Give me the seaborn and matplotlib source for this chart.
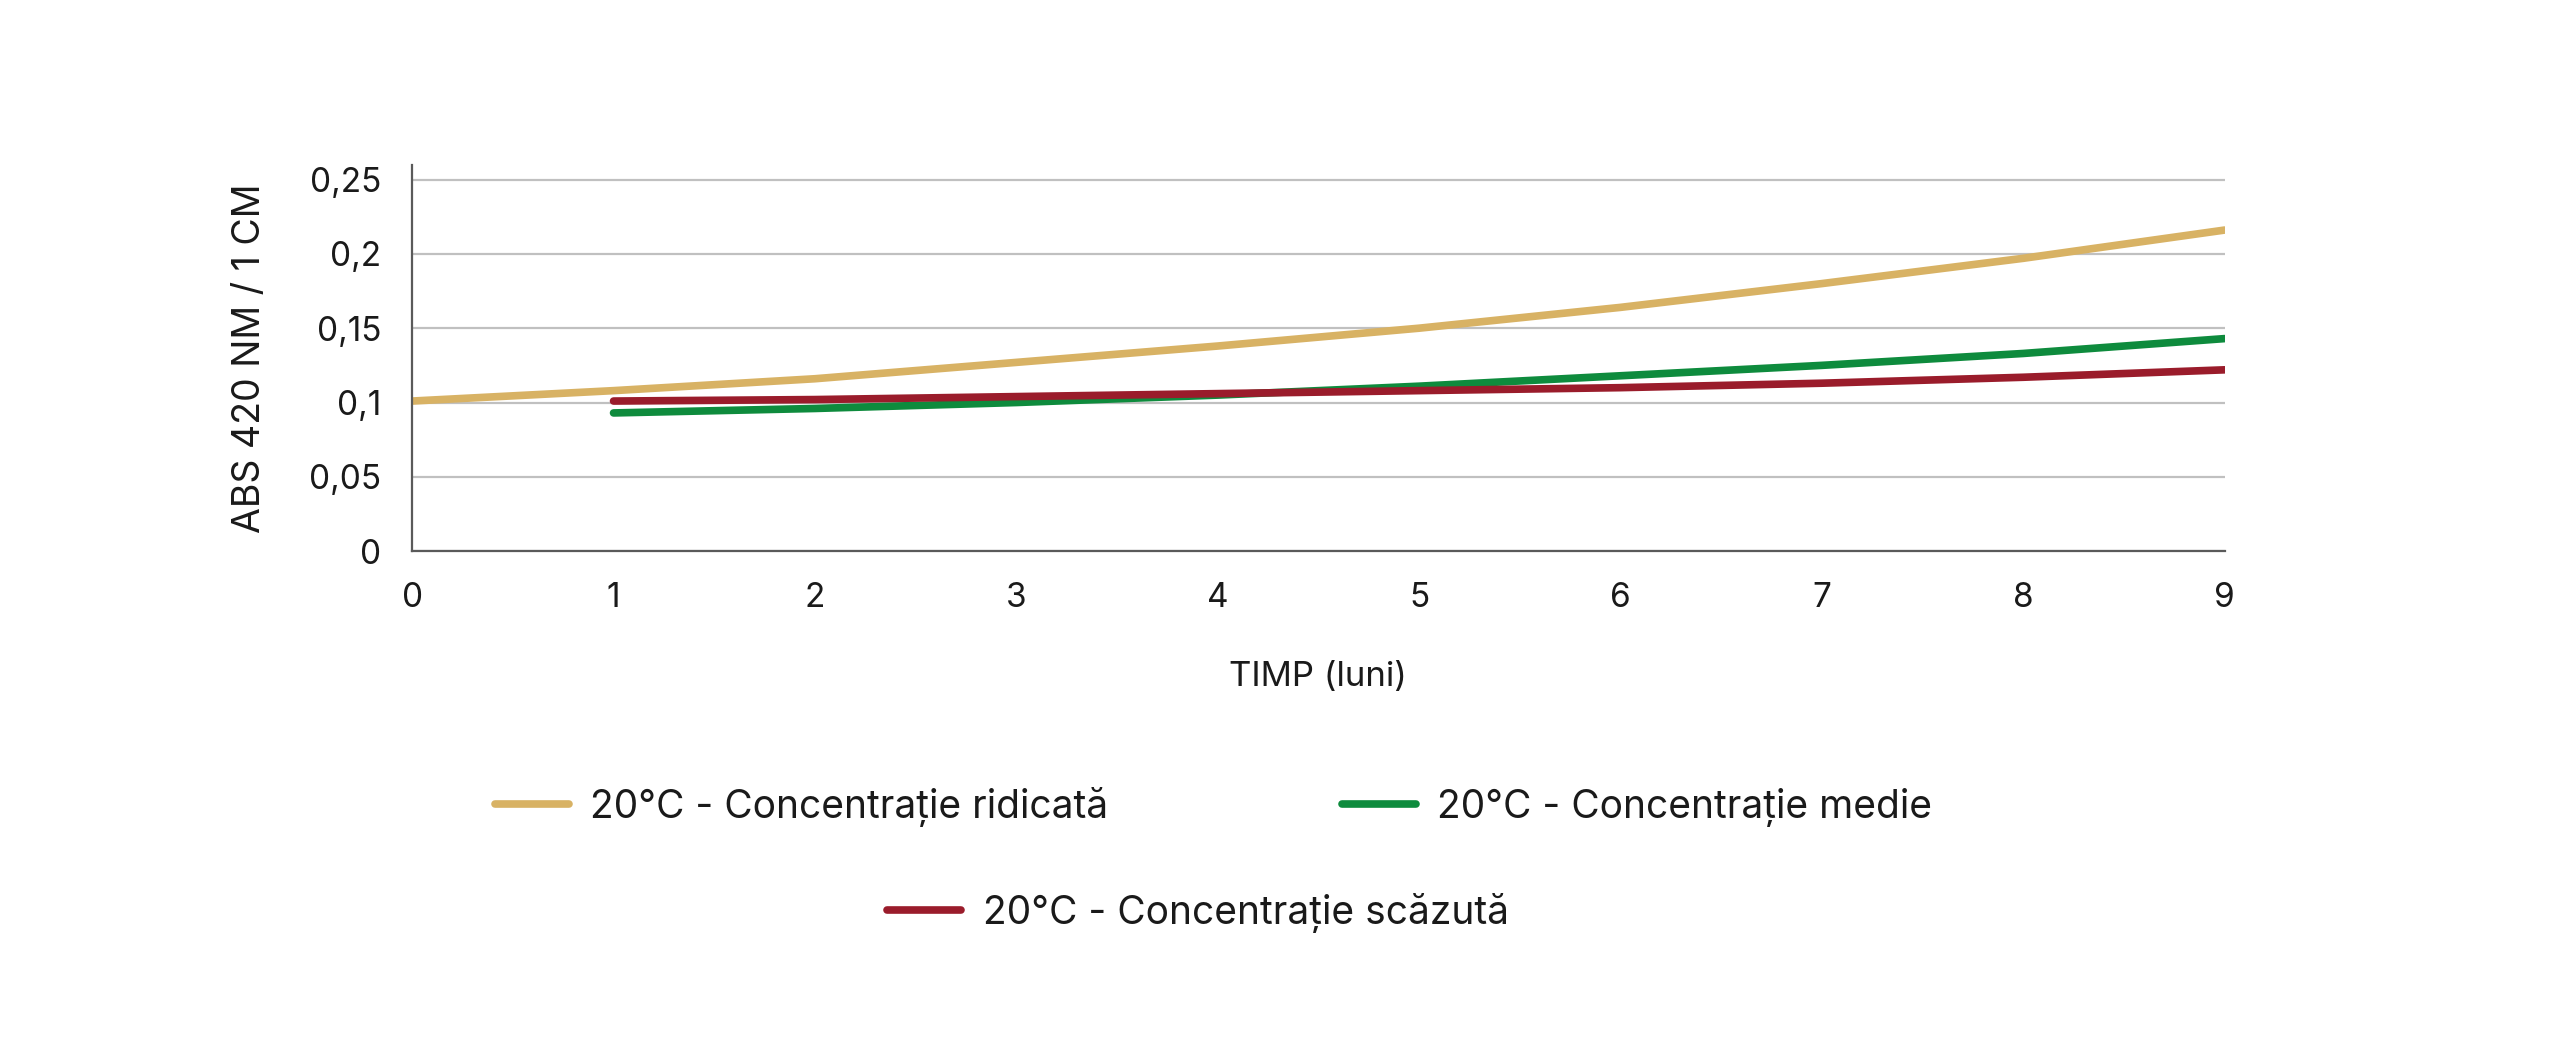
import numpy as np
import pandas as pd
import seaborn as sns
import matplotlib.pyplot as plt

luni_ridicata = [0, 1, 2, 3, 4, 5, 6, 7, 8, 9]
abs_ridicata = [0.101, 0.108, 0.116, 0.127, 0.138, 0.150, 0.164, 0.180, 0.197, 0.216]
luni_medie = [1, 2, 3, 4, 5, 6, 7, 8, 9]
abs_medie = [0.093, 0.096, 0.100, 0.105, 0.111, 0.118, 0.125, 0.133, 0.143]
luni_scazuta = [1, 2, 3, 4, 5, 6, 7, 8, 9]
abs_scazuta = [0.101, 0.102, 0.104, 0.106, 0.108, 0.110, 0.113, 0.117, 0.122]

serii = ['20°C - Concentrație ridicată', '20°C - Concentrație medie', '20°C - Concentrație scăzută']
culori = ['#D8B264', '#0E8B3D', '#9A1C2B']
y_ticks = [0, 0.05, 0.1, 0.15, 0.2, 0.25]
y_labels = ['0', '0,05', '0,1', '0,15', '0,2', '0,25']
x_ticks = list(range(10))

df = pd.concat([
    pd.DataFrame({'luni': luni_ridicata, 'abs': abs_ridicata, 'serie': serii[0]}),
    pd.DataFrame({'luni': luni_medie, 'abs': abs_medie, 'serie': serii[1]}),
    pd.DataFrame({'luni': luni_scazuta, 'abs': abs_scazuta, 'serie': serii[2]}),
])

sns.set_style('white')
plt.rcParams['font.family'] = ['Inter', 'DejaVu Sans']
txt = '#1a1a1a'

fig = plt.figure(figsize=(25.6, 10.42), dpi=100)
ax = fig.add_axes([0.161, 0.471, 0.708, 0.371])

sns.lineplot(data=df, x='luni', y='abs', hue='serie', palette=dict(zip(serii, culori)),
             linewidth=5.5, ax=ax, legend=False, solid_capstyle='round')
for line, lab in zip(ax.get_lines(), serii):
    line.set_label(lab)

ax.set_xlim(0, 9)
ax.set_ylim(0, 0.26)
ax.set_xticks(x_ticks)
ax.set_yticks(y_ticks)
ax.set_yticklabels(y_labels)
ax.tick_params(axis='both', length=0, labelsize=24, colors=txt)
ax.tick_params(axis='x', pad=22)
ax.tick_params(axis='y', pad=22)
ax.grid(axis='y', color='#c0c0c0', linewidth=1.6)
ax.set_axisbelow(True)
for s in ['top', 'right']:
    ax.spines[s].set_visible(False)
for s in ['left', 'bottom']:
    ax.spines[s].set_color('#5a5a5a')
    ax.spines[s].set_linewidth(1.6)

ax.set_xlabel('TIMP (luni)', fontsize=25, color=txt, labelpad=34)
ax.set_ylabel('ABS 420 NM / 1 CM', fontsize=27, color=txt, labelpad=30)

handles = ax.get_lines()[:3]
leg_kw = dict(frameon=False, fontsize=28, handlelength=1.9, handletextpad=0.55,
              columnspacing=6.0, labelcolor=txt, loc='center')
leg1 = fig.legend(handles[:2], serii[:2], ncol=2, bbox_to_anchor=(0.474, 0.226), **leg_kw)
leg2 = fig.legend(handles[2:], serii[2:], ncol=1, bbox_to_anchor=(0.468, 0.124), **leg_kw)

fig.savefig('out.png', dpi=100, facecolor='white')
